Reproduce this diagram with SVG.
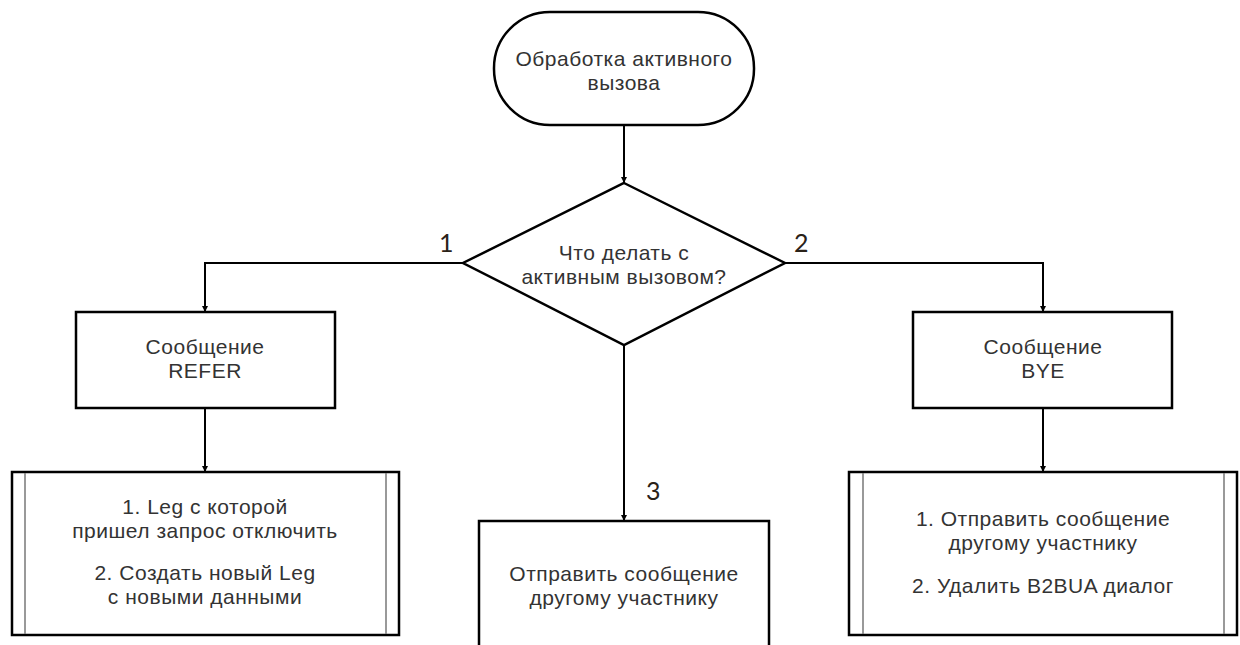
<svg xmlns="http://www.w3.org/2000/svg" width="1240" height="645" viewBox="0 0 1240 645">
<defs>
<marker id="arr" viewBox="0 0 10 10" refX="10" refY="5" markerWidth="6" markerHeight="6" orient="auto" markerUnits="userSpaceOnUse">
<path d="M0,0 L10,5 L0,10 z" fill="#000"/>
</marker>
<style>
.shape{fill:#fff;stroke:#000;stroke-width:2.5}
.inner{stroke:#777;stroke-width:1.5}
.t{font-family:"Liberation Sans",Arial,sans-serif;font-size:21px;letter-spacing:0.5px;fill:#333;text-anchor:middle}
.num{font-family:"Lato","Open Sans",sans-serif;font-size:25px;fill:#2a2218}
.conn{fill:none;stroke:#000;stroke-width:2}
</style>
</defs>
<rect width="1240" height="645" fill="#fff"/>
<g id="connectors">
<path class="conn" d="M624,125 V183" marker-end="url(#arr)"/>
<path class="conn" d="M463,263 H205 V312" marker-end="url(#arr)"/>
<path class="conn" d="M785,263 H1043 V312" marker-end="url(#arr)"/>
<path class="conn" d="M624,345 V521" marker-end="url(#arr)"/>
<path class="conn" d="M205,408 V472" marker-end="url(#arr)"/>
<path class="conn" d="M1043,408 V472" marker-end="url(#arr)"/>
<text class="num" x="439" y="252">1</text>
<text class="num" x="794" y="252">2</text>
<text class="num" x="646" y="500">3</text>
</g>
<g id="start">
<rect class="shape" x="494" y="12" width="260" height="113" rx="56" ry="56"/>
<text class="t" x="624" y="66">Обработка активного</text>
<text class="t" x="624" y="90">вызова</text>
</g>
<g id="decision">
<polygon class="shape" points="624,183 785,263 624,345 463,263"/>
<text class="t" x="624" y="260">Что делать с</text>
<text class="t" x="624" y="284">активным вызовом?</text>
</g>
<g id="refer">
<rect class="shape" x="76" y="312" width="259" height="96"/>
<text class="t" x="205" y="354">Сообщение</text>
<text class="t" x="205" y="378">REFER</text>
</g>
<g id="bye">
<rect class="shape" x="913" y="312" width="259" height="96"/>
<text class="t" x="1043" y="354">Сообщение</text>
<text class="t" x="1043" y="378">BYE</text>
</g>
<g id="refer-actions">
<rect class="shape" x="12" y="472" width="387" height="163"/>
<line class="inner" x1="25" y1="473" x2="25" y2="634"/>
<line class="inner" x1="386" y1="473" x2="386" y2="634"/>
<text class="t" x="205" y="514">1. Leg с которой</text>
<text class="t" x="205" y="538">пришел запрос отключить</text>
<text class="t" x="205" y="580">2. Создать новый Leg</text>
<text class="t" x="205" y="604">с новыми данными</text>
</g>
<g id="send">
<rect class="shape" x="479" y="521" width="290" height="140"/>
<text class="t" x="624" y="581">Отправить сообщение</text>
<text class="t" x="624" y="605">другому участнику</text>
</g>
<g id="bye-actions">
<rect class="shape" x="849" y="472" width="388" height="163"/>
<line class="inner" x1="863" y1="473" x2="863" y2="634"/>
<line class="inner" x1="1224" y1="473" x2="1224" y2="634"/>
<text class="t" x="1043" y="526">1. Отправить сообщение</text>
<text class="t" x="1043" y="550">другому участнику</text>
<text class="t" x="1043" y="593">2. Удалить B2BUA диалог</text>
</g>
</svg>
